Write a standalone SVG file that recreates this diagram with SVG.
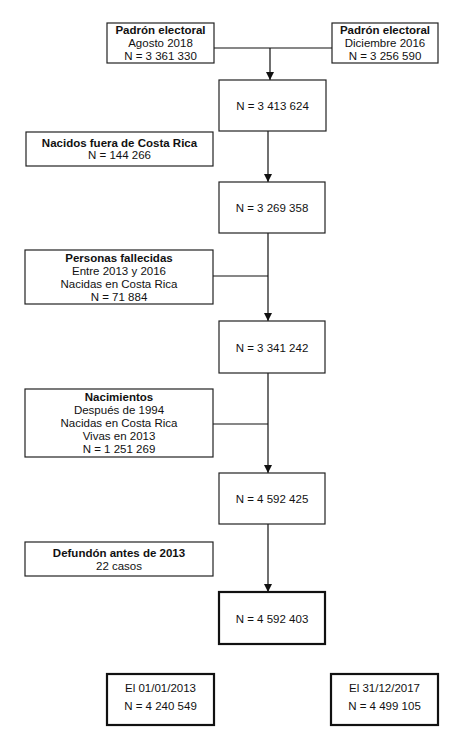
<svg xmlns="http://www.w3.org/2000/svg" width="463" height="732" viewBox="0 0 463 732">
<style>
text{font-family:"Liberation Sans",Arial,sans-serif;font-size:11.5px;fill:#111;text-anchor:middle}
.b{font-weight:bold}
.box{fill:#fff;stroke:#222;stroke-width:1.2}
.thick{fill:#fff;stroke:#111;stroke-width:2.2}
.ln{stroke:#111;stroke-width:1.2;fill:none}
</style>
<defs>
<marker id="ah" viewBox="0 0 10 10" refX="10" refY="5" markerWidth="8" markerHeight="10" markerUnits="userSpaceOnUse" orient="auto">
<path d="M0,0 L10,5 L0,10 z" fill="#111"/>
</marker>
</defs>
<rect width="463" height="732" fill="#fff"/>
<g id="connectors">
<path class="ln" d="M214,48 H332"/>
<path class="ln" d="M270,48 V80" marker-end="url(#ah)"/>
<path class="ln" d="M268,131 V182" marker-end="url(#ah)"/>
<path class="ln" d="M213,276 H268"/>
<path class="ln" d="M268,233 V321" marker-end="url(#ah)"/>
<path class="ln" d="M213,424 H268"/>
<path class="ln" d="M268,373 V473" marker-end="url(#ah)"/>
<path class="ln" d="M268,524 V592" marker-end="url(#ah)"/>
</g>
<g id="padron2018">
<rect class="box" x="107" y="23" width="107" height="40"/>
<text class="b" x="160.5" y="34">Padrón electoral</text>
<text x="160.5" y="47">Agosto 2018</text>
<text x="160.5" y="60">N = 3 361 330</text>
</g>
<g id="padron2016">
<rect class="box" x="332" y="23" width="106" height="40"/>
<text class="b" x="385" y="34">Padrón electoral</text>
<text x="385" y="47">Diciembre 2016</text>
<text x="385" y="60">N = 3 256 590</text>
</g>
<g id="n1">
<rect class="box" x="219" y="80" width="107" height="51"/>
<text x="272.5" y="110">N = 3 413 624</text>
</g>
<g id="nacidosfuera">
<rect class="box" x="26" y="132" width="187" height="34"/>
<text class="b" x="119.5" y="147">Nacidos fuera de Costa Rica</text>
<text x="119.5" y="159">N = 144 266</text>
</g>
<g id="n2">
<rect class="box" x="219" y="182" width="106" height="51"/>
<text x="272" y="212">N = 3 269 358</text>
</g>
<g id="fallecidas">
<rect class="box" x="25" y="250" width="188" height="54"/>
<text class="b" x="119" y="262">Personas fallecidas</text>
<text x="119" y="275">Entre 2013 y 2016</text>
<text x="119" y="288">Nacidas en Costa Rica</text>
<text x="119" y="301">N = 71 884</text>
</g>
<g id="n3">
<rect class="box" x="219" y="321" width="106" height="52"/>
<text x="272" y="352">N = 3 341 242</text>
</g>
<g id="nacimientos">
<rect class="box" x="25" y="389" width="188" height="68"/>
<text class="b" x="119" y="401">Nacimientos</text>
<text x="119" y="414">Después de 1994</text>
<text x="119" y="427">Nacidas en Costa Rica</text>
<text x="119" y="440">Vivas en 2013</text>
<text x="119" y="453">N = 1 251 269</text>
</g>
<g id="n4">
<rect class="box" x="219" y="473" width="106" height="51"/>
<text x="272" y="503">N = 4 592 425</text>
</g>
<g id="defuncion">
<rect class="box" x="25" y="542" width="188" height="34"/>
<text class="b" x="119" y="557">Defundón antes de 2013</text>
<text x="119" y="570">22 casos</text>
</g>
<g id="n5">
<rect class="thick" x="219" y="592" width="106" height="52"/>
<text x="272" y="623">N = 4 592 403</text>
</g>
<g id="el2013">
<rect class="thick" x="107" y="674" width="107" height="51"/>
<text x="160.5" y="692">El 01/01/2013</text>
<text x="160.5" y="710">N = 4 240 549</text>
</g>
<g id="el2017">
<rect class="thick" x="331" y="674" width="107" height="51"/>
<text x="384.5" y="692">El 31/12/2017</text>
<text x="384.5" y="710">N = 4 499 105</text>
</g>
</svg>
